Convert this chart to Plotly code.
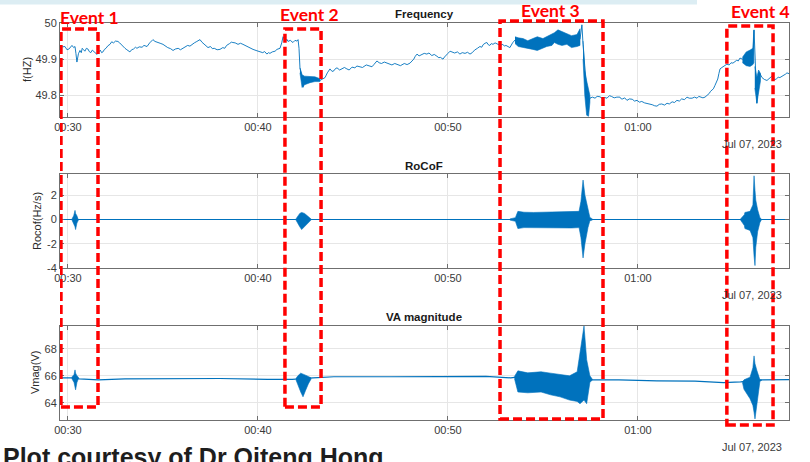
import pandas as pd
import plotly.graph_objects as go

# ---------------------------------------------------------------------------
# Data (time in minutes after midnight, 7 July 2023)
# ---------------------------------------------------------------------------
freq_t = [29.58, 29.7, 29.84, 29.95, 30.05, 30.13, 30.21, 30.3, 30.37, 30.42, 30.47, 30.55,
          30.63, 30.7, 30.75, 30.82, 30.89, 30.97, 31.05, 31.12, 31.2, 31.28, 31.35, 31.45,
          31.53, 31.62, 31.7, 31.77, 31.84, 31.92, 32.0, 32.1, 32.21, 32.3, 32.4, 32.5, 32.63,
          32.72, 32.8, 32.9, 33.0, 33.1, 33.2, 33.26, 33.35, 33.45, 33.55, 33.63, 33.75, 33.9,
          34.0, 34.16, 34.3, 34.47, 34.58, 34.7, 34.85, 35.0, 35.12, 35.25, 35.4, 35.53, 35.65,
          35.8, 35.92, 36.05, 36.18, 36.3, 36.42, 36.53, 36.65, 36.75, 36.85, 36.95, 37.05,
          37.15, 37.25, 37.37, 37.5, 37.6, 37.7, 37.85, 38.0, 38.15, 38.25, 38.35, 38.5, 38.6,
          38.68, 38.8, 38.95, 39.08, 39.21, 39.35, 39.5, 39.62, 39.74, 39.9, 40.1, 40.25, 40.35,
          40.47, 40.55, 40.63, 40.75, 40.9, 41.0, 41.16, 41.25, 41.32, 41.4, 41.45, 41.52, 41.58,
          41.7, 41.84, 41.95, 42.05, 42.11, 42.16, 42.21, 42.32, 42.37, 42.5, 42.74, 43.0, 43.26,
          43.4, 43.53, 43.65, 43.79, 43.9, 44.0, 44.08, 44.16, 44.3, 44.4, 44.55, 44.68, 44.8,
          44.95, 45.1, 45.21, 45.35, 45.5, 45.7, 45.89, 46.0, 46.1, 46.18, 46.26, 46.38, 46.5,
          46.65, 46.79, 46.92, 47.05, 47.2, 47.32, 47.5, 47.7, 47.85, 48.0, 48.1, 48.2, 48.28,
          48.37, 48.48, 48.6, 48.75, 48.89, 49.0, 49.15, 49.28, 49.42, 49.52, 49.6, 49.68, 49.74,
          49.82, 49.9, 50.0, 50.11, 50.22, 50.35, 50.5, 50.63, 50.75, 50.9, 51.03, 51.16, 51.28,
          51.4, 51.55, 51.68, 51.78, 51.85, 51.95, 52.05, 52.12, 52.2, 52.28, 52.37, 52.48, 52.6,
          52.75, 52.89, 52.97, 53.05, 53.15, 53.26, 53.4, 53.53, 53.95, 54.47, 55.0, 55.47, 55.79,
          56.26, 56.79, 56.95, 57.05, 57.11, 57.21, 57.32, 57.4, 57.47, 57.6, 57.74, 57.85, 58.0,
          58.15, 58.25, 58.37, 58.5, 58.6, 58.75, 58.89, 59.05, 59.12, 59.2, 59.3, 59.42, 59.55,
          59.7, 59.82, 59.95, 60.08, 60.2, 60.35, 60.47, 60.6, 60.75, 60.88, 61.0, 61.12, 61.25,
          61.4, 61.53, 61.65, 61.8, 61.92, 62.05, 62.18, 62.3, 62.45, 62.58, 62.7, 62.85, 62.98,
          63.11, 63.2, 63.3, 63.42, 63.53, 63.65, 63.75, 63.82, 63.89, 63.97, 64.05, 64.12, 64.2,
          64.26, 64.32, 64.42, 64.5, 64.6, 64.68, 64.8, 64.9, 65.0, 65.1, 65.2, 65.28, 65.37,
          65.5, 65.63, 65.89, 66.05, 66.11, 66.2, 66.26, 66.32, 66.42, 66.53, 66.65, 66.79, 66.88,
          66.95, 67.03, 67.11, 67.2, 67.3, 67.38, 67.47, 67.58, 67.7, 67.78, 67.84, 67.95]
freq_v = [49.930, 49.934, 49.935, 49.926, 49.928, 49.934, 49.938, 49.932, 49.935, 49.915, 49.892,
          49.915, 49.924, 49.918, 49.930, 49.926, 49.922, 49.930, 49.928, 49.921, 49.918, 49.925,
          49.922, 49.917, 49.913, 49.920, 49.925, 49.918, 49.920, 49.927, 49.930, 49.937, 49.941,
          49.948, 49.945, 49.950, 49.949, 49.945, 49.940, 49.936, 49.930, 49.926, 49.923, 49.920,
          49.926, 49.928, 49.933, 49.930, 49.934, 49.933, 49.938, 49.935, 49.945, 49.954, 49.949,
          49.946, 49.944, 49.941, 49.936, 49.932, 49.929, 49.924, 49.928, 49.930, 49.926, 49.930,
          49.935, 49.938, 49.936, 49.941, 49.945, 49.948, 49.950, 49.954, 49.947, 49.942, 49.937,
          49.932, 49.935, 49.929, 49.930, 49.926, 49.927, 49.932, 49.930, 49.938, 49.943, 49.947,
          49.946, 49.945, 49.941, 49.944, 49.941, 49.937, 49.933, 49.930, 49.927, 49.924, 49.920,
          49.918, 49.921, 49.914, 49.918, 49.916, 49.920, 49.922, 49.927, 49.930, 49.945, 49.962,
          49.955, 49.950, 49.955, 49.949, 49.952, 49.946, 49.952, 49.950, 49.954, 49.930, 49.876,
          49.849, 49.822, 49.845, 49.841, 49.843, 49.841, 49.845, 49.849, 49.862, 49.873, 49.866,
          49.868, 49.874, 49.876, 49.870, 49.872, 49.877, 49.873, 49.870, 49.878, 49.876, 49.881,
          49.880, 49.877, 49.884, 49.881, 49.879, 49.885, 49.890, 49.895, 49.890, 49.888, 49.892,
          49.889, 49.886, 49.884, 49.888, 49.886, 49.882, 49.888, 49.885, 49.889, 49.895, 49.900,
          49.908, 49.914, 49.909, 49.912, 49.916, 49.914, 49.917, 49.910, 49.913, 49.908, 49.904,
          49.905, 49.901, 49.900, 49.906, 49.912, 49.916, 49.922, 49.920, 49.917, 49.920, 49.914,
          49.918, 49.916, 49.919, 49.914, 49.918, 49.925, 49.930, 49.935, 49.933, 49.940, 49.944,
          49.946, 49.940, 49.938, 49.943, 49.941, 49.945, 49.942, 49.938, 49.941, 49.936, 49.938,
          49.934, 49.932, 49.945, 49.953, 49.945, 49.942, 49.943, 49.953, 49.961, 49.955, 49.951,
          49.955, 49.995, 49.940, 49.860, 49.800, 49.780, 49.792, 49.795, 49.792, 49.797, 49.796,
          49.790, 49.794, 49.792, 49.799, 49.797, 49.793, 49.795, 49.795, 49.790, 49.790, 49.793,
          49.786, 49.790, 49.789, 49.784, 49.786, 49.781, 49.783, 49.779, 49.778, 49.776, 49.774,
          49.771, 49.770, 49.775, 49.776, 49.773, 49.778, 49.776, 49.782, 49.780, 49.786, 49.784,
          49.790, 49.788, 49.795, 49.792, 49.792, 49.795, 49.792, 49.797, 49.796, 49.793, 49.795,
          49.800, 49.805, 49.811, 49.814, 49.818, 49.827, 49.835, 49.845, 49.860, 49.873, 49.877,
          49.880, 49.884, 49.886, 49.884, 49.890, 49.889, 49.893, 49.897, 49.895, 49.903, 49.900,
          49.905, 49.905, 49.910, 49.981, 49.850, 49.778, 49.820, 49.860, 49.849, 49.844, 49.841,
          49.846, 49.848, 49.852, 49.849, 49.843, 49.846, 49.850, 49.849, 49.852, 49.855, 49.859,
          49.862, 49.860]

# Dense oscillation envelopes on the frequency trace
f_ev2_t = [42.21, 42.32, 42.45, 42.74, 43.0, 43.26]
f_ev2_hi = [49.876, 49.857, 49.853, 49.851, 49.851, 49.846]
f_ev2_lo = [49.862, 49.822, 49.829, 49.835, 49.838, 49.838]

f_ev3_t = [53.53, 53.7, 53.95, 54.2, 54.47, 54.7, 55.0, 55.2, 55.47, 55.6, 55.79, 56.0, 56.26,
           56.5, 56.79, 56.95]
f_ev3_hi = [49.962, 49.959, 49.957, 49.951, 49.957, 49.962, 49.957, 49.962, 49.968, 49.973,
            49.981, 49.976, 49.970, 49.965, 49.968, 49.984]
f_ev3_lo = [49.943, 49.935, 49.932, 49.930, 49.927, 49.924, 49.930, 49.935, 49.938, 49.946,
            49.941, 49.938, 49.941, 49.932, 49.935, 49.938]

f_drop3_t = [57.11, 57.2, 57.3, 57.4, 57.47]
f_drop3_hi = [49.95, 49.87, 49.84, 49.82, 49.80]
f_drop3_lo = [49.90, 49.80, 49.745, 49.742, 49.78]

f_ev4_t = [65.5, 65.7, 65.9, 66.05, 66.1]
f_ev4_hi = [49.905, 49.92, 49.925, 49.93, 49.98]
f_ev4_lo = [49.89, 49.882, 49.88, 49.885, 49.89]

f_post4_t = [66.15, 66.26, 66.35, 66.45]
f_post4_hi = [49.88, 49.85, 49.87, 49.86]
f_post4_lo = [49.82, 49.778, 49.80, 49.84]

# RoCoF (Hz/s)
rocof_base_t = [29.58, 67.95]
rocof_base_v = [0.0, 0.0]

r_ev1_t = [30.21, 30.3, 30.37, 30.4, 30.47, 30.55]
r_ev1_hi = [0.05, 0.3, 0.75, 0.5, 0.3, 0.05]
r_ev1_lo = [-0.05, -0.3, -0.6, -0.83, -0.3, -0.05]

r_ev2_t = [42.0, 42.1, 42.2, 42.3, 42.45, 42.6, 42.79]
r_ev2_hi = [0.05, 0.3, 0.5, 0.58, 0.5, 0.3, 0.05]
r_ev2_lo = [-0.05, -0.35, -0.6, -0.83, -0.6, -0.35, -0.05]

r_ev3_t = [53.26, 53.55, 53.68, 54.0, 54.5, 55.0, 55.5, 56.0, 56.5, 56.9, 57.0, 57.11, 57.21,
           57.37, 57.47, 57.6]
r_ev3_hi = [0.05, 0.15, 0.67, 0.6, 0.58, 0.6, 0.6, 0.62, 0.63, 0.67, 1.5, 3.25, 2.0, 1.0, 0.17, 0.05]
r_ev3_lo = [-0.05, -0.15, -0.75, -0.67, -0.67, -0.67, -0.67, -0.7, -0.7, -0.67, -1.5, -3.17, -2.0,
            -0.67, -0.1, -0.05]

r_ev4_t = [65.4, 65.6, 65.63, 65.9, 66.05, 66.11, 66.16, 66.2, 66.3, 66.42, 66.5]
r_ev4_hi = [0.05, 0.4, 0.58, 0.67, 1.2, 3.6, 2.4, 1.6, 0.8, 0.15, 0.03]
r_ev4_lo = [-0.05, -0.5, -0.75, -0.9, -1.5, -3.0, -3.8, -2.3, -1.0, -0.25, -0.03]

# Voltage magnitude (V)
vmag_t = [29.58, 30.2, 30.6, 31.6, 33.0, 35.0, 38.0, 40.5, 41.8, 42.9, 44.0, 47.0, 50.0, 52.0,
          53.3, 53.6, 57.5, 59.0, 61.0, 63.0, 64.5, 65.4, 66.5, 67.95]
vmag_v = [65.85, 65.85, 65.78, 65.7, 65.78, 65.78, 65.8, 65.74, 65.74, 65.85, 65.93, 65.93,
          65.92, 65.96, 65.85, 65.9, 65.7, 65.7, 65.63, 65.6, 65.5, 65.55, 65.7, 65.72]

v_ev1_t = [30.2, 30.32, 30.37, 30.4, 30.47, 30.55]
v_ev1_hi = [65.9, 66.1, 66.44, 66.2, 66.0, 65.9]
v_ev1_lo = [65.8, 65.5, 65.2, 64.96, 65.5, 65.8]

v_ev2_t = [42.0, 42.1, 42.25, 42.37, 42.5, 42.65, 42.79]
v_ev2_hi = [65.8, 66.0, 66.2, 66.1, 66.05, 65.95, 65.85]
v_ev2_lo = [65.7, 65.3, 64.8, 64.44, 64.9, 65.4, 65.75]

v_ev3_t = [53.5, 53.68, 54.2, 54.9, 55.4, 55.9, 56.4, 56.8, 56.95, 57.16, 57.3, 57.47, 57.6]
v_ev3_hi = [65.95, 66.37, 66.22, 66.3, 66.2, 66.1, 66.0, 66.3, 67.7, 69.7, 67.2, 66.0, 65.75]
v_ev3_lo = [65.8, 64.8, 64.74, 64.8, 64.59, 64.44, 64.2, 64.1, 63.93, 64.2, 63.93, 65.5, 65.7]

v_ev4_t = [65.5, 65.58, 65.9, 66.05, 66.11, 66.16, 66.26, 66.42, 66.5]
v_ev4_hi = [65.55, 65.7, 65.9, 66.6, 67.48, 66.9, 66.4, 65.7, 65.7]
v_ev4_lo = [65.5, 65.0, 64.3, 63.8, 63.3, 62.8, 63.6, 65.6, 65.65]

# Event windows (minutes) and labels
event_names = ["Event 1", "Event 2", "Event 3", "Event 4"]
event_start = [29.63, 41.42, 52.74, 64.68]
event_end = [31.58, 43.32, 58.16, 67.11]

x_tick_minutes = [30, 40, 50, 60]
x_tick_text = ["00:30", "00:40", "00:50", "01:00"]
x_limits = [29.58, 67.95]

# ---------------------------------------------------------------------------
DAY = pd.Timestamp("2023-07-07")


def to_time(mins):
    return [DAY + pd.Timedelta(minutes=m) for m in mins]


BLUE = "#0072BD"
W, H = 810, 462


def px_y(py):
    return 1 - py / H


def px_x(px):
    return px / W


fig = go.Figure()


def add_line(t, v, axis, width=0.9):
    fig.add_trace(go.Scatter(x=to_time(t), y=v, mode="lines", xaxis="x" + axis, yaxis="y" + axis,
                             line=dict(color=BLUE, width=width), hoverinfo="skip",
                             showlegend=False))


def add_band(t, hi, lo, axis):
    xs = to_time(list(t) + list(t)[::-1])
    ys = list(hi) + list(lo)[::-1]
    fig.add_trace(go.Scatter(x=xs, y=ys, mode="lines", fill="toself", fillcolor=BLUE,
                             xaxis="x" + axis, yaxis="y" + axis,
                             line=dict(color=BLUE, width=0.6), hoverinfo="skip",
                             showlegend=False))


# Frequency panel
add_line(freq_t, freq_v, "")
for t, hi, lo in [(f_ev2_t, f_ev2_hi, f_ev2_lo), (f_ev3_t, f_ev3_hi, f_ev3_lo),
                  (f_drop3_t, f_drop3_hi, f_drop3_lo), (f_ev4_t, f_ev4_hi, f_ev4_lo),
                  (f_post4_t, f_post4_hi, f_post4_lo)]:
    add_band(t, hi, lo, "")

# RoCoF panel
add_line(rocof_base_t, rocof_base_v, "2", width=1.2)
for t, hi, lo in [(r_ev1_t, r_ev1_hi, r_ev1_lo), (r_ev2_t, r_ev2_hi, r_ev2_lo),
                  (r_ev3_t, r_ev3_hi, r_ev3_lo), (r_ev4_t, r_ev4_hi, r_ev4_lo)]:
    add_band(t, hi, lo, "2")

# Voltage magnitude panel
add_line(vmag_t, vmag_v, "3", width=1.2)
for t, hi, lo in [(v_ev1_t, v_ev1_hi, v_ev1_lo), (v_ev2_t, v_ev2_hi, v_ev2_lo),
                  (v_ev3_t, v_ev3_hi, v_ev3_lo), (v_ev4_t, v_ev4_hi, v_ev4_lo)]:
    add_band(t, hi, lo, "3")

AX_COLOR = "#6f6f6f"
GRID = "#e6e6e6"
TICK_FONT = dict(family="Liberation Sans, Arial, sans-serif", size=11, color="#3a3a3a")

x_dom = [px_x(60), px_x(789)]
panels = [  # (suffix, top px, bottom px, y range, tick values, tick labels)
    ("", 23, 117, [49.74, 50.0], [49.8, 49.9, 50.0], ["49.8", "49.9", "50"]),
    ("2", 174, 268, [-4, 3.75], [-4, -2, 0, 2], ["-4", "-2", "0", "2"]),
    ("3", 326, 420, [62.72, 69.7], [64, 66, 68], ["64", "66", "68"]),
]

layout_axes = {}
for suf, top, bot, yr, yv, yt in panels:
    layout_axes["xaxis" + suf] = dict(
        domain=x_dom, anchor="y" + suf, type="date", automargin=False,
        range=to_time(x_limits), tickvals=to_time(x_tick_minutes), ticktext=x_tick_text,
        showline=True, linecolor=AX_COLOR, linewidth=1, mirror="ticks",
        ticks="inside", ticklen=4, tickcolor=AX_COLOR,
        showgrid=True, gridcolor=GRID, gridwidth=1, zeroline=False,
        tickfont=TICK_FONT)
    layout_axes["yaxis" + suf] = dict(
        domain=[px_y(bot), px_y(top)], anchor="x" + suf, range=yr, automargin=False,
        tickvals=yv, ticktext=yt,
        showline=True, linecolor=AX_COLOR, linewidth=1, mirror="ticks",
        ticks="inside", ticklen=4, tickcolor=AX_COLOR,
        showgrid=True, gridcolor=GRID, gridwidth=1, zeroline=False,
        tickfont=TICK_FONT)

annotations = []
# Panel titles
for text, py in [("Frequency", 14), ("RoCoF", 166), ("VA magnitude", 317)]:
    annotations.append(dict(text="<b>%s</b>" % text, x=px_x(424), y=px_y(py), xref="paper",
                            yref="paper", showarrow=False, xanchor="center", yanchor="middle",
                            font=dict(family="Liberation Sans, Arial, sans-serif", size=11.5,
                                      color="#1a1a1a")))
# Axis titles
for text, px, py in [("f(HZ)", 27, 70), ("Rocof(Hz/s)", 37, 221), ("Vmag(V)", 35, 373)]:
    annotations.append(dict(text=text, x=px_x(px), y=px_y(py), xref="paper", yref="paper",
                            showarrow=False, textangle=-90, xanchor="center", yanchor="middle",
                            font=dict(family="Liberation Sans, Arial, sans-serif", size=11,
                                      color="#2a2a2a")))
# Date labels
for py in [144, 295, 447]:
    annotations.append(dict(text="Jul 07, 2023", x=px_x(752), y=px_y(py), xref="paper",
                            yref="paper", showarrow=False, xanchor="center", yanchor="middle",
                            font=TICK_FONT))
# Event labels
for name, px, py in zip(event_names, [89, 309, 550, 760], [17, 15, 10, 11]):
    annotations.append(dict(text="<b>%s</b>" % name, x=px_x(px), y=px_y(py), xref="paper",
                            yref="paper", showarrow=False, xanchor="center", yanchor="middle",
                            font=dict(family="Lato, Open Sans, sans-serif", size=17.5,
                                      color="#ff0000")))
# Credit line
annotations.append(dict(text="<b>Plot courtesy of Dr Qiteng Hong</b>", x=0.0, y=px_y(457),
                        xref="paper", yref="paper", showarrow=False, xanchor="left",
                        yanchor="middle", xshift=1,
                        font=dict(family="Liberation Sans, Arial, sans-serif", size=25,
                                  color="#1e1e1e")))

shapes = [dict(type="rect", xref="paper", yref="paper", x0=0, x1=px_x(697), y0=px_y(4.5), y1=1,
               fillcolor="#dcedf3", line=dict(width=0), layer="below")]
for s, e, top, bot in zip(event_start, event_end, [29, 29, 21, 26], [407, 407, 419, 425]):
    shapes.append(dict(type="rect", xref="x", yref="paper", x0=to_time([s])[0],
                       x1=to_time([e])[0], y0=px_y(bot), y1=px_y(top),
                       line=dict(color="#ff0000", width=3.5, dash="9px,4px"),
                       fillcolor="rgba(0,0,0,0)", layer="above"))

fig.update_layout(template="none", width=W, height=H,
                  margin=dict(l=0, r=0, t=0, b=0, pad=0, autoexpand=False),
                  paper_bgcolor="white", plot_bgcolor="white", showlegend=False,
                  annotations=annotations, shapes=shapes, **layout_axes)

fig.write_html("out.html")
